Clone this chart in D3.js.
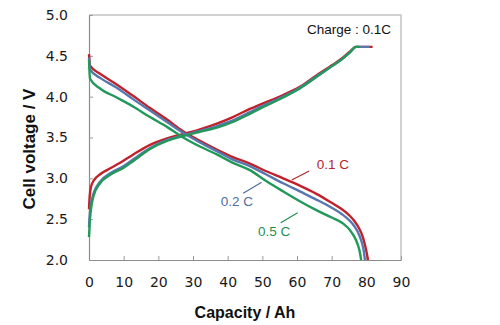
<!DOCTYPE html>
<html>
<head>
<meta charset="utf-8">
<script src="https://cdn.jsdelivr.net/npm/d3@7"></script>
<style>
  html, body { margin: 0; padding: 0; background: #fff; }
  svg { display: block; }
</style>
</head>
<body>
<svg id="chart" width="500" height="325"></svg>
<script>
// Axis ticks
const xTicks = [0, 10, 20, 30, 40, 50, 60, 70, 80, 90];
const yTicks = [2.0, 2.5, 3.0, 3.5, 4.0, 4.5, 5.0];

// Discharge curves: [capacity (Ah), voltage (V)]
const discharge01 = [[0,4.52],[0.3,4.38],[3.2,4.28],[8,4.15],[12.7,4.01],[17.6,3.86],[22.5,3.72],[27,3.58],[32,3.46],[37,3.35],[41.5,3.26],[46.4,3.18],[51,3.09],[56,3.0],[60.8,2.91],[65.6,2.81],[70,2.70],[72.3,2.64],[75,2.55],[76.5,2.48],[78,2.38],[79,2.28],[79.8,2.15],[80.5,2.0]];
const discharge02 = [[0,4.48],[0.3,4.33],[3.2,4.23],[8,4.11],[12.7,3.97],[17.6,3.83],[22.5,3.69],[27,3.56],[32,3.44],[37,3.33],[41.5,3.23],[46.4,3.15],[51,3.05],[56,2.94],[60.8,2.84],[65.6,2.74],[70,2.64],[73,2.56],[75,2.49],[76.6,2.41],[78,2.30],[78.8,2.20],[79.3,2.10],[79.6,2.0]];
const discharge05 = [[0,4.45],[0.3,4.22],[3.2,4.10],[8,3.99],[12.7,3.88],[17.6,3.75],[22.5,3.63],[26.8,3.51],[32,3.39],[37,3.29],[41.5,3.19],[46.4,3.10],[51,2.97],[56,2.84],[60.8,2.72],[65.6,2.61],[70,2.52],[73.2,2.45],[75.2,2.37],[76.6,2.28],[77.6,2.18],[78.2,2.08],[78.5,2.0]];

// Charge curves (all at 0.1C) for the cells discharged above
const charge01 = [[0,2.62],[0.2,2.78],[0.6,2.90],[1.5,2.98],[3.2,3.05],[6,3.12],[9,3.19],[12.7,3.29],[17.6,3.41],[22.5,3.49],[27,3.54],[32,3.60],[36.9,3.67],[41.5,3.75],[46.4,3.85],[49.2,3.90],[56,4.02],[60.8,4.12],[65.6,4.26],[70.3,4.39],[73,4.47],[75.2,4.55],[77,4.61],[81.8,4.61]];
const charge02 = [[0,2.40],[0.2,2.55],[0.5,2.66],[1.2,2.80],[3.2,2.96],[6,3.06],[10,3.15],[12.7,3.23],[17.6,3.37],[22.5,3.47],[26.5,3.52],[32,3.58],[36.9,3.64],[41.5,3.71],[46.4,3.81],[49.2,3.87],[56,4.00],[60.8,4.11],[65.6,4.25],[70.3,4.38],[73,4.46],[75.2,4.54],[77,4.61],[81,4.61]];
const charge05 = [[0,2.28],[0.2,2.45],[0.5,2.60],[1.2,2.77],[3.2,2.94],[6,3.04],[10,3.13],[12.7,3.21],[17.6,3.36],[22.5,3.46],[26.5,3.51],[32,3.57],[36.9,3.62],[41.5,3.69],[46.4,3.79],[49.2,3.85],[56,3.99],[60.8,4.10],[65.6,4.24],[70.3,4.38],[73,4.46],[75.2,4.54],[77,4.61],[78,4.61]];

const rateLabels = ["0.1 C", "0.2 C", "0.5 C"];
const chargeLabel = "Charge : 0.1C";
const colors = ["#c0222b", "#5877ad", "#22995a"];
const labelColors = ["#b3262d", "#4f6d9c", "#1f8f50"];

const svg = d3.select("#chart");
const x = d3.scaleLinear().domain([0, 90]).range([89, 401]);
const y = d3.scaleLinear().domain([2, 5]).range([260, 15]);

// Frame (top and right)
svg.append("path")
  .attr("d", `M${x(0)},${y(5)}H${x(90)}V${y(2)}`)
  .attr("fill", "none").attr("stroke", "#c4c4c4").attr("stroke-width", 1.5);

// Axes with inward ticks
const xAxis = svg.append("g").attr("transform", `translate(0,${y(2)})`)
  .call(d3.axisBottom(x).tickValues(xTicks).tickFormat(d3.format("d"))
        .tickSizeInner(-4).tickSizeOuter(0).tickPadding(17));
const yAxis = svg.append("g").attr("transform", `translate(${x(0)},0)`)
  .call(d3.axisLeft(y).tickValues(yTicks).tickFormat(d3.format(".1f"))
        .tickSizeInner(-4).tickSizeOuter(0).tickPadding(21));
[xAxis, yAxis].forEach(g => {
  g.select(".domain").attr("stroke", "#8c8c8c").attr("stroke-width", 1.2);
  g.selectAll(".tick line").attr("stroke", "#9a9a9a");
  g.selectAll(".tick text").attr("fill", "#1a1a1a")
    .style("font-family", "'DejaVu Sans', Verdana, sans-serif").style("font-size", "14px");
});

// Curves
const line = d3.line().x(d => x(d[0])).y(d => y(d[1])).curve(d3.curveMonotoneX);
const curves = [
  [discharge01, 0], [charge01, 0],
  [discharge02, 1], [charge02, 1],
  [discharge05, 2], [charge05, 2]
];
svg.append("g").selectAll("path").data(curves).join("path")
  .attr("d", d => line(d[0]))
  .attr("fill", "none")
  .attr("stroke", d => colors[d[1]])
  .attr("stroke-width", 2.4)
  .attr("stroke-linejoin", "round");

// Rate labels with leader lines
const labelFont = "'Liberation Sans', Arial, sans-serif";
const notes = [
  { i: 0, line: [[58.5, 2.98], [63.5, 3.09]], text: [65.7, 3.115] },
  { i: 1, line: [[44.5, 2.817], [49.8, 2.951]], text: [38.0, 2.665] },
  { i: 2, line: [[55.3, 2.457], [60.2, 2.579]], text: [48.75, 2.298] }
];
const ng = svg.append("g");
notes.forEach(n => {
  ng.append("line")
    .attr("x1", x(n.line[0][0])).attr("y1", y(n.line[0][1]))
    .attr("x2", x(n.line[1][0])).attr("y2", y(n.line[1][1]))
    .attr("stroke", labelColors[n.i]).attr("stroke-width", 1.2);
  ng.append("text")
    .attr("x", x(n.text[0])).attr("y", y(n.text[1]))
    .attr("fill", labelColors[n.i])
    .style("font-family", labelFont).style("font-size", "13.5px")
    .text(rateLabels[n.i]);
});

svg.append("text")
  .attr("x", x(87.1)).attr("y", y(4.767))
  .attr("text-anchor", "end").attr("fill", "#111")
  .style("font-family", labelFont).style("font-size", "13.5px")
  .text(chargeLabel);

// Axis titles
svg.append("text")
  .attr("x", (x(0) + x(90)) / 2).attr("y", 318)
  .attr("text-anchor", "middle").attr("fill", "#111")
  .style("font-family", labelFont).style("font-size", "16px").style("font-weight", "bold")
  .text("Capacity / Ah");
svg.append("text")
  .attr("transform", "translate(35,149) rotate(-90)")
  .attr("text-anchor", "middle").attr("fill", "#111")
  .style("font-family", labelFont).style("font-size", "17px").style("font-weight", "bold")
  .text("Cell voltage / V");
</script>
</body>
</html>
